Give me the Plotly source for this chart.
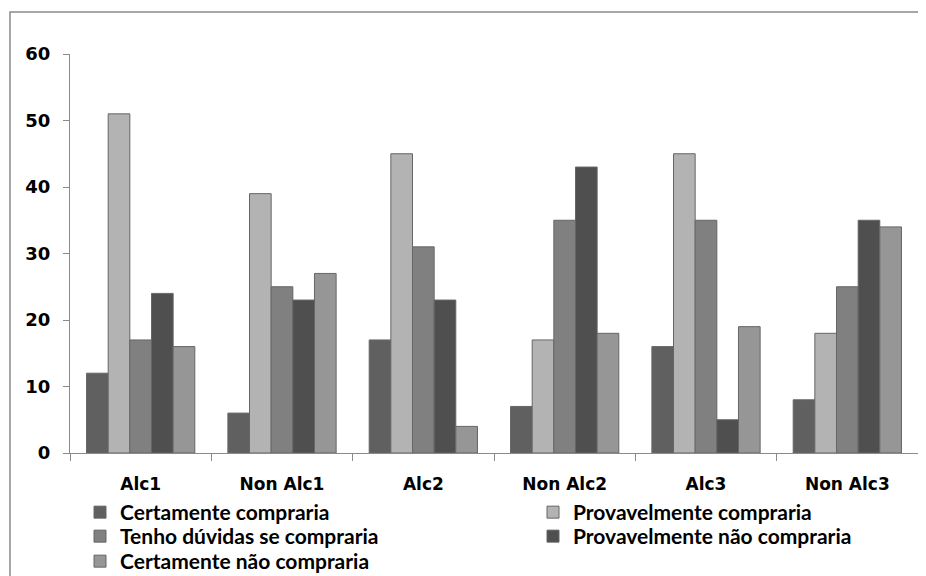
import plotly.graph_objects as go

categories = ["Alc1", "Non Alc1", "Alc2", "Non Alc2", "Alc3", "Non Alc3"]
series_names = [
    "Certamente compraria",
    "Provavelmente compraria",
    "Tenho dúvidas se compraria",
    "Provavelmente não compraria",
    "Certamente não compraria",
]
certamente_compraria = [12, 6, 17, 7, 16, 8]
provavelmente_compraria = [51, 39, 45, 17, 45, 18]
tenho_duvidas = [17, 25, 31, 35, 35, 25]
provavelmente_nao = [24, 23, 23, 43, 5, 35]
certamente_nao = [16, 27, 4, 18, 19, 34]
y_ticks = [0, 10, 20, 30, 40, 50, 60]

series_values = [certamente_compraria, provavelmente_compraria, tenho_duvidas,
                 provavelmente_nao, certamente_nao]
colors = ["#606060", "#b3b3b3", "#808080", "#4f4f4f", "#969696"]

# page has an 8px body margin, so the figure is laid out in page px minus 8
OFF = 8
W, H = 926 - OFF, 576 - OFF
ML, MR, MT, MB = 70 - OFF, 8, 54 - OFF, 123
PW, PH = W - ML - MR, H - MT - MB

def px_x(p):  # page px -> paper x
    return (p - OFF - ML) / PW

def px_y(p):  # page px -> paper y
    return (H - MB - (p - OFF)) / PH

# legend slots (page px): legend-box left, legend-box top
legend_ids = ["legend", "legend2", "legend3", "legend4", "legend5"]
legend_pos = [(80, 492), (533, 492), (80, 516), (533, 516), (80, 541)]

fig = go.Figure()
for name, vals, col, lid in zip(series_names, series_values, colors, legend_ids):
    fig.add_trace(go.Bar(
        x=categories, y=vals, name=name, legend=lid,
        marker=dict(color=col, line=dict(color="#666666", width=1)),
    ))

fig.add_shape(type="rect", xref="paper", yref="paper",
              x0=px_x(10), x1=px_x(940), y0=px_y(590), y1=px_y(12),
              line=dict(color="#8a8a8a", width=1.5), fillcolor="rgba(0,0,0,0)",
              layer="below")

legend_font = dict(family="Lato", size=21, color="black", weight="bold")
legends = {}
for lid, (lx, ly) in zip(legend_ids, legend_pos):
    legends[lid] = dict(
        orientation="v", x=px_x(lx), y=px_y(ly), xanchor="left", yanchor="top",
        font=legend_font, itemwidth=30, bgcolor="rgba(0,0,0,0)", borderwidth=0,
    )

fig.update_layout(
    width=W, height=H,
    margin=dict(l=ML, r=MR, t=MT, b=MB, pad=0, autoexpand=False),
    paper_bgcolor="white", plot_bgcolor="white",
    barmode="group", bargap=0.234, bargroupgap=0,
    font=dict(family="DejaVu Sans", color="black"),
    xaxis=dict(
        showline=True, linecolor="#8a8a8a", linewidth=1,
        ticks="outside", tickson="boundaries", ticklen=7, tickcolor="#8a8a8a",
        tickfont=dict(family="DejaVu Sans", size=17, color="black", weight="bold"),
        ticklabelstandoff=16,
        showgrid=False, zeroline=False,
    ),
    yaxis=dict(
        range=[0, 60], tickvals=y_ticks, showline=True, linecolor="#8a8a8a",
        linewidth=1, ticks="outside", ticklen=6, tickcolor="#8a8a8a",
        tickfont=dict(family="DejaVu Sans", size=18, color="black", weight="bold"),
        ticklabelstandoff=9,
        showgrid=False, zeroline=False,
    ),
    showlegend=True,
    **legends,
)

fig.write_html("out.html")
